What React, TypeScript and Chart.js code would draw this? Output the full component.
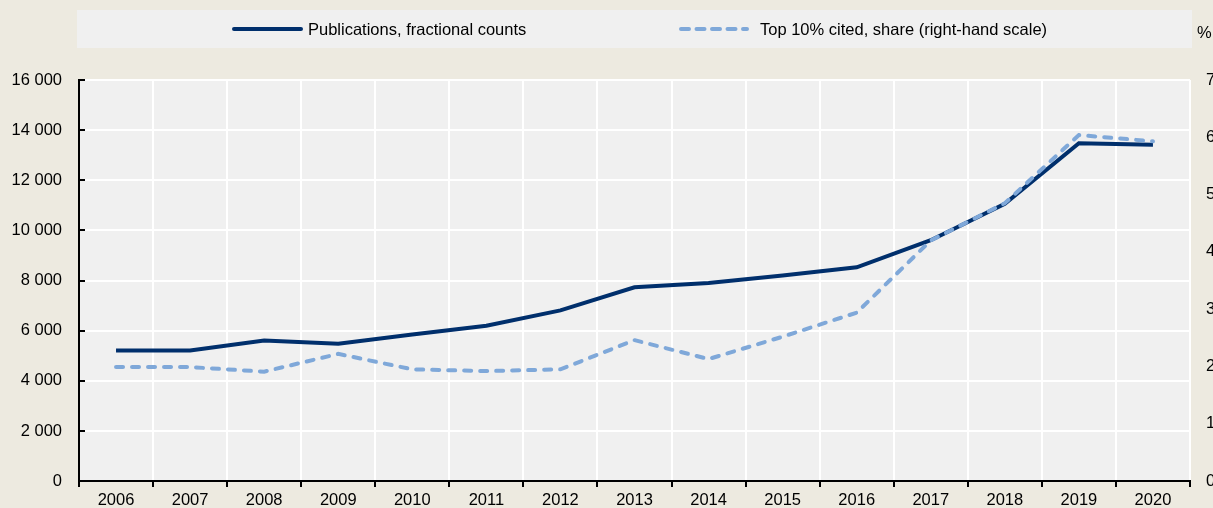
import React, { useEffect, useRef } from "react";
import { Chart, registerables } from "chart.js";

Chart.register(...registerables);

const years = ["2006", "2007", "2008", "2009", "2010", "2011", "2012", "2013", "2014", "2015", "2016", "2017", "2018", "2019", "2020"];
const publications = [5210, 5210, 5610, 5480, 5850, 6200, 6810, 7730, 7900, 8200, 8530, 9610, 11060, 13480, 13420];
const topShare = [1.99, 1.99, 1.91, 2.22, 1.95, 1.92, 1.95, 2.46, 2.13, 2.52, 2.94, 4.2, 4.85, 6.04, 5.93];
const seriesLabels = ["Publications, fractional counts", "Top 10% cited, share (right-hand scale)"];
const rightUnit = "%";

const FONT = '"Liberation Sans", Arial, sans-serif';
const FONT_SIZE = 16.5;
const NAVY = "#002F6C";
const LIGHT = "#7FA8D9";
const PAGE_BG = "#EDEAE0";
const PLOT_BG = "#F0F0F0";

const fmt = (v: number) => String(v).replace(/\B(?=(\d{3})+(?!\d))/g, " ");

const decorPlugin = {
  id: "decor",
  beforeDraw(chart: any) {
    const { ctx, chartArea } = chart;
    ctx.save();
    ctx.fillStyle = PAGE_BG;
    ctx.fillRect(0, 0, chart.width, chart.height);
    ctx.fillStyle = PLOT_BG;
    ctx.fillRect(chartArea.left, chartArea.top, chartArea.right - chartArea.left, chartArea.bottom - chartArea.top);
    // legend box
    ctx.fillStyle = PLOT_BG;
    ctx.fillRect(77, 10, 1115, 38);
    ctx.font = `${FONT_SIZE}px ${FONT}`;
    ctx.textBaseline = "middle";
    ctx.textAlign = "left";
    const ly = 29;
    // item 1
    ctx.strokeStyle = NAVY;
    ctx.lineWidth = 4;
    ctx.lineCap = "round";
    ctx.beginPath();
    ctx.moveTo(234, ly);
    ctx.lineTo(301, ly);
    ctx.stroke();
    ctx.fillStyle = "#000";
    ctx.fillText(seriesLabels[0], 308, ly + 1);
    // item 2
    ctx.strokeStyle = LIGHT;
    ctx.lineCap = "round";
    ctx.setLineDash([8, 7.5]);
    ctx.beginPath();
    ctx.moveTo(681, ly);
    ctx.lineTo(747, ly);
    ctx.stroke();
    ctx.setLineDash([]);
    ctx.fillText(seriesLabels[1], 760, ly + 1);
    // unit
    ctx.fillText(rightUnit, 1197, 33);
    ctx.restore();
  },
  afterDraw(chart: any) {
    const { ctx, chartArea } = chart;
    const y = chart.scales.y;
    ctx.save();
    ctx.strokeStyle = "#000";
    ctx.lineWidth = 2;
    y.ticks.forEach((t: any) => {
      const py = Math.round(y.getPixelForValue(t.value));
      ctx.beginPath();
      ctx.moveTo(chartArea.left, py);
      ctx.lineTo(chartArea.left + 6, py);
      ctx.stroke();
    });
    ctx.restore();
  },
};

export default function App() {
  const ref = useRef<HTMLCanvasElement | null>(null);
  useEffect(() => {
    document.body.style.margin = "0";
    document.body.style.background = PAGE_BG;
    const canvas = ref.current!;
    const chart = new Chart(canvas, {
      type: "line",
      data: {
        labels: years,
        datasets: [
          {
            label: seriesLabels[1],
            data: topShare,
            yAxisID: "y1",
            borderColor: LIGHT,
            borderWidth: 4,
            borderDash: [7, 9],
            borderCapStyle: "round",
            pointRadius: 0,
            tension: 0,
            fill: false,
            order: 0,
          },
          {
            label: seriesLabels[0],
            data: publications,
            yAxisID: "y",
            borderColor: NAVY,
            borderWidth: 4,
            pointRadius: 0,
            tension: 0,
            fill: false,
            order: 1,
          },
        ],
      },
      options: {
        animation: false,
        responsive: false,
        devicePixelRatio: 1,
        layout: { padding: { top: 80, left: 0, right: 0, bottom: 0 } },
        plugins: { legend: { display: false }, tooltip: { enabled: false } },
        scales: {
          x: {
            offset: true,
            grid: { offset: true, color: "#FFFFFF", lineWidth: 2, tickColor: "#000", tickLength: 6, tickWidth: 2, drawTicks: true },
            border: { color: "#000", width: 2 },
            ticks: { color: "#000", font: { family: FONT, size: FONT_SIZE }, padding: 3, maxRotation: 0, autoSkip: false },
            afterFit: (s: any) => { s.height = 26; },
          },
          y: {
            position: "left",
            min: 0,
            max: 16000,
            grid: { color: "#FFFFFF", lineWidth: 2, drawTicks: false },
            border: { color: "#000", width: 2 },
            ticks: { stepSize: 2000, color: "#000", font: { family: FONT, size: FONT_SIZE }, padding: 17, callback: (v: any) => fmt(Number(v)) },
            afterFit: (s: any) => { s.width = 79; },
          },
          y1: {
            position: "right",
            min: 0,
            max: 7,
            grid: { display: false, drawTicks: false },
            border: { display: false },
            ticks: { stepSize: 1, color: "#000", font: { family: FONT, size: FONT_SIZE }, padding: 16 },
            afterFit: (s: any) => { s.width = 23; },
          },
        },
      },
      plugins: [decorPlugin],
    });
    return () => chart.destroy();
  }, []);
  return (
    <div style={{ width: 1213, height: 508, background: PAGE_BG, overflow: "hidden" }}>
      <canvas ref={ref} width={1213} height={508} style={{ display: "block" }} />
    </div>
  );
}
